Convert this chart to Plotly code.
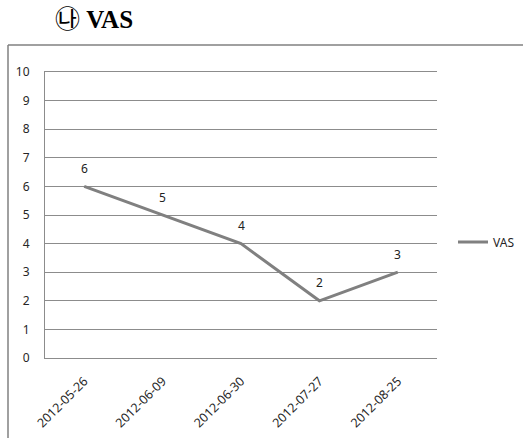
import plotly.graph_objects as go

dates = ["2012-05-26", "2012-06-09", "2012-06-30", "2012-07-27", "2012-08-25"]
vas = [6, 5, 4, 2, 3]
series_name = "VAS"
y_ticks = list(range(0, 11))

W, H = 523, 438
L, R, T, B = 45, 86, 72, 80
pw, ph = W - L - R, H - T - B

def px_x(x):
    return (x - L) / pw

def px_y(y):
    return (H - B - y) / ph

fig = go.Figure()
fig.add_trace(go.Scatter(
    x=dates, y=vas, mode="lines", name=series_name,
    line=dict(color="#808080", width=3),
))
for d, v in zip(dates, vas):
    fig.add_annotation(x=d, y=v, text=str(v), showarrow=False, yshift=18,
                       font=dict(family="Noto Sans, DejaVu Sans", size=12, color="#222222"))

# title
fig.add_annotation(xref="paper", yref="paper", x=px_x(53), y=px_y(17), xanchor="left", yanchor="middle",
                   text="<span style='font-family:Noto Sans CJK KR;font-size:25px;font-weight:normal'>㉯</span> <b>VAS</b>",
                   showarrow=False, font=dict(family="Liberation Serif, DejaVu Serif", size=25, color="#000000"))

# outer chart frame (left and top borders)
fig.add_shape(type="line", xref="paper", yref="paper", x0=px_x(8), x1=px_x(8), y0=px_y(45), y1=px_y(440),
              line=dict(color="#808080", width=1.5))
fig.add_shape(type="line", xref="paper", yref="paper", x0=px_x(8), x1=px_x(525), y0=px_y(45), y1=px_y(45),
              line=dict(color="#808080", width=1.5))

fig.update_layout(
    width=W, height=H,
    margin=dict(l=L, r=R, t=T, b=B, autoexpand=False),
    paper_bgcolor="white", plot_bgcolor="white",
    font=dict(family="Noto Sans, DejaVu Sans", size=12, color="#262626"),
    showlegend=True,
    legend=dict(x=px_x(453), y=px_y(242), xanchor="left", yanchor="middle",
                font=dict(size=12, color="#262626"), itemwidth=30,
                bgcolor="rgba(0,0,0,0)"),
    xaxis=dict(type="category", range=[-0.5, 4.5], tickangle=-45, showgrid=False,
               showline=True, mirror=True, linecolor="#8c8c8c", linewidth=1,
               ticks="", zeroline=False, ticklabelstandoff=10, tickfont=dict(size=12.5)),
    yaxis=dict(range=[0, 10], tickvals=y_ticks, showgrid=True, gridcolor="#8c8c8c", gridwidth=1,
               zeroline=False, showline=True, linecolor="#8c8c8c", linewidth=1,
               ticks="", ticklabelstandoff=12, tickfont=dict(size=12)),
)
fig.write_html("out.html")
